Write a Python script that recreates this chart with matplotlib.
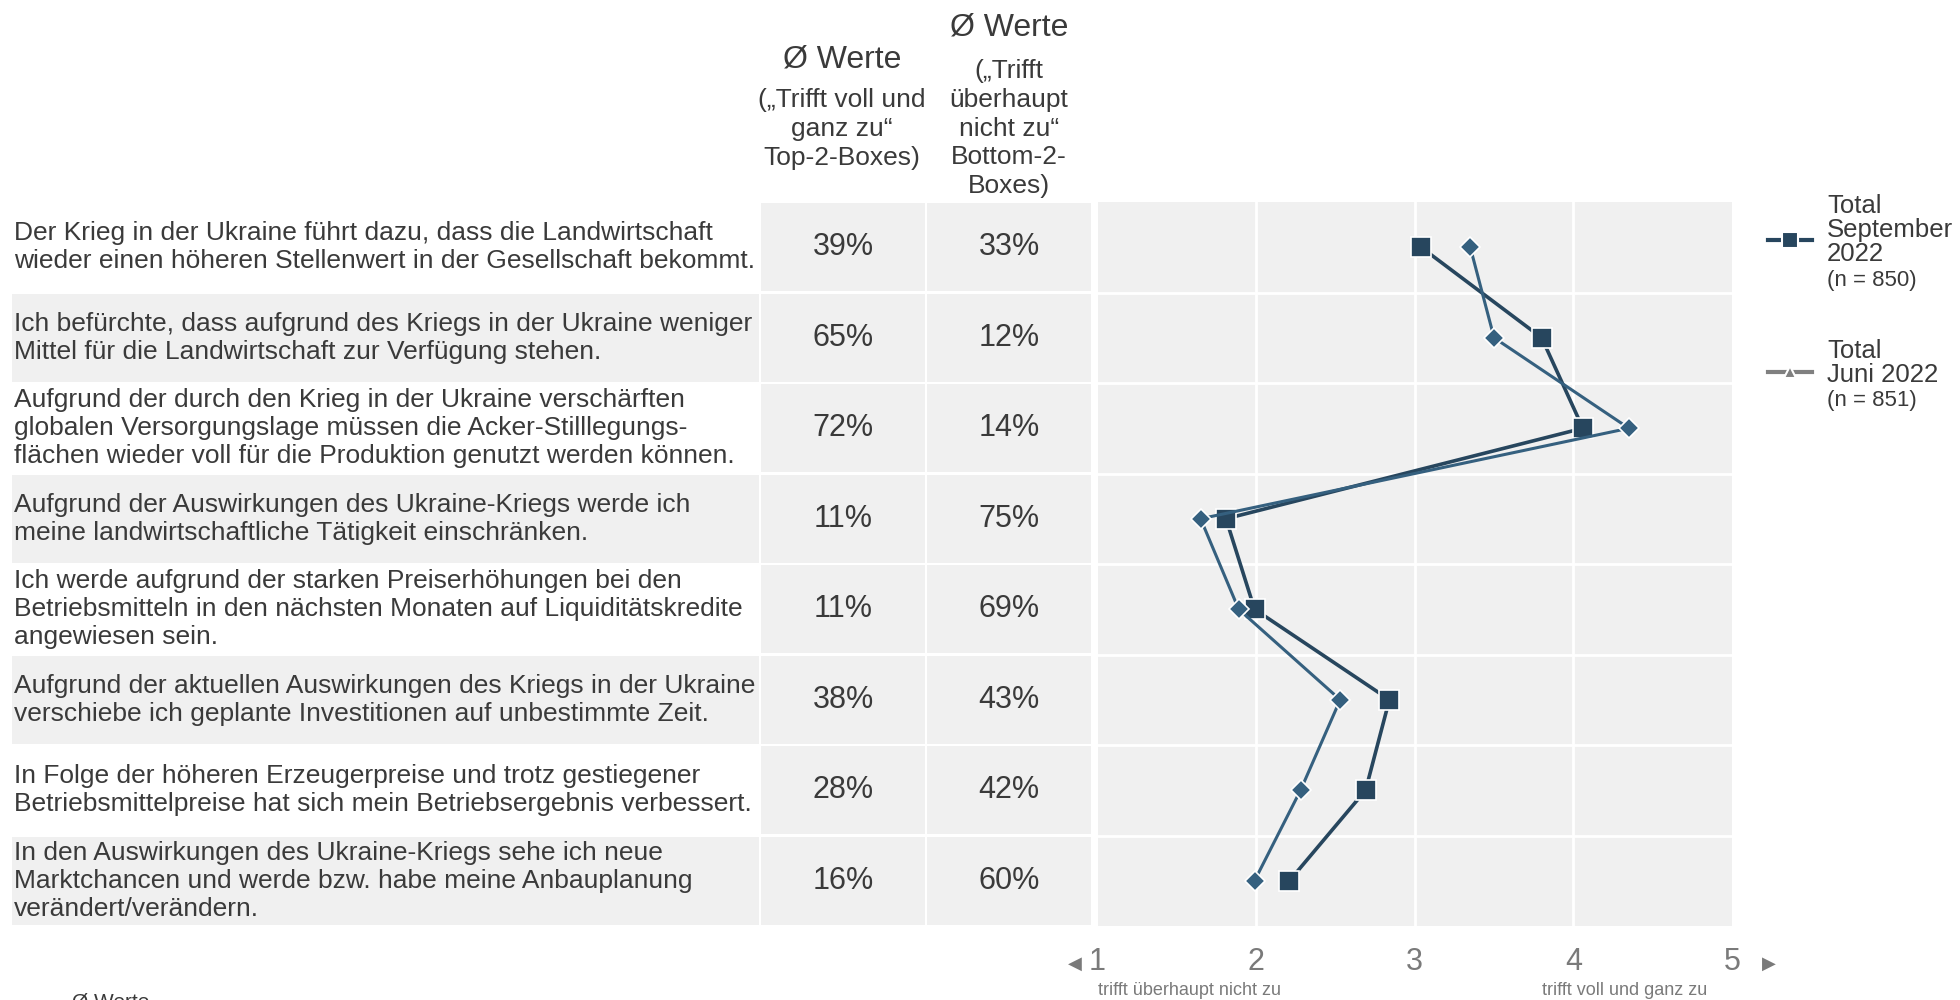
import matplotlib.pyplot as plt
from matplotlib import font_manager
from matplotlib.patches import Rectangle
from matplotlib.lines import Line2D

# data
statements = [
    "Der Krieg in der Ukraine führt dazu, dass die Landwirtschaft\nwieder einen höheren Stellenwert in der Gesellschaft bekommt.",
    "Ich befürchte, dass aufgrund des Kriegs in der Ukraine weniger\nMittel für die Landwirtschaft zur Verfügung stehen.",
    "Aufgrund der durch den Krieg in der Ukraine verschärften\nglobalen Versorgungslage müssen die Acker-Stilllegungs-\nflächen wieder voll für die Produktion genutzt werden können.",
    "Aufgrund der Auswirkungen des Ukraine-Kriegs werde ich\nmeine landwirtschaftliche Tätigkeit einschränken.",
    "Ich werde aufgrund der starken Preiserhöhungen bei den\nBetriebsmitteln in den nächsten Monaten auf Liquiditätskredite\nangewiesen sein.",
    "Aufgrund der aktuellen Auswirkungen des Kriegs in der Ukraine\nverschiebe ich geplante Investitionen auf unbestimmte Zeit.",
    "In Folge der höheren Erzeugerpreise und trotz gestiegener\nBetriebsmittelpreise hat sich mein Betriebsergebnis verbessert.",
    "In den Auswirkungen des Ukraine-Kriegs sehe ich neue\nMarktchancen und werde bzw. habe meine Anbauplanung\nverändert/verändern.",
]
top2 = [39, 65, 72, 11, 11, 38, 28, 16]
bottom2 = [33, 12, 14, 75, 69, 43, 42, 60]
mean_sep = [3.04, 3.80, 4.06, 1.81, 1.99, 2.84, 2.69, 2.21]
mean_jun = [3.35, 3.50, 4.35, 1.65, 1.89, 2.53, 2.28, 1.99]
scale_ticks = [1, 2, 3, 4, 5]

names = {f.name for f in font_manager.fontManager.ttflist}
font = 'Liberation Sans Narrow' if 'Liberation Sans Narrow' in names else 'Liberation Sans'
plt.rcParams['font.family'] = [font, 'DejaVu Sans']

TXT = '#3a3a3a'
GRAY_TXT = '#7a7a7a'
BG = '#f0f0f0'
C_SEP = '#27465e'
C_JUN = '#35607f'

W, H = 1960, 1000
fig = plt.figure(figsize=(W / 100, H / 100), dpi=100)
fig.patch.set_facecolor('white')

y_top, y_bot = 202, 926
n = len(statements)
rows = list(range(n))

# table axes (pixel units in x)
tab = fig.add_axes([0, (H - y_bot) / H, 1094 / W, (y_bot - y_top) / H])
tab.set_xlim(0, 1094)
tab.set_ylim(n, 0)
tab.axis('off')
gap = 0.012
for i in rows:
    if i % 2 == 1:
        tab.add_patch(Rectangle((12, i + gap), 747, 1 - 2 * gap, color=BG, lw=0))
    tab.add_patch(Rectangle((761, i + gap), 164, 1 - 2 * gap, color=BG, lw=0))
    tab.add_patch(Rectangle((927, i + gap), 164, 1 - 2 * gap, color=BG, lw=0))
    tab.text(14, i + 0.5, statements[i], ha='left', va='center', fontsize=19,
             color=TXT, linespacing=1.2)
    tab.text(843, i + 0.5, f"{top2[i]}%", ha='center', va='center', fontsize=22, color=TXT)
    tab.text(1009, i + 0.5, f"{bottom2[i]}%", ha='center', va='center', fontsize=22, color=TXT)

# column headers
fig.text(842 / W, 1 - 170 / H, "(„Trifft voll und\nganz zu“\nTop-2-Boxes)", ha='center', va='bottom',
         fontsize=19, color=TXT, linespacing=1.25)
fig.text(842 / W, 1 - 74 / H, "Ø Werte", ha='center', va='bottom', fontsize=23, color=TXT)
fig.text(1009 / W, 1 - 198 / H, "(„Trifft\nüberhaupt\nnicht zu“\nBottom-2-\nBoxes)", ha='center',
         va='bottom', fontsize=19, color=TXT, linespacing=1.25)
fig.text(1009 / W, 1 - 42 / H, "Ø Werte", ha='center', va='bottom', fontsize=23, color=TXT)

# line chart
ax = fig.add_axes([1097.5 / W, (H - y_bot) / H, (1732 - 1097.5) / W, (y_bot - y_top) / H])
ax.set_facecolor(BG)
ax.set_xlim(1, 5)
ax.set_ylim(n, 0)
y_pos = [i + 0.5 for i in rows]
for x in scale_ticks[1:-1]:
    ax.axvline(x, color='white', lw=2, zorder=1)
for i in rows[1:]:
    ax.axhline(i, color='white', lw=2, zorder=1)
ax.plot(mean_sep, y_pos, color=C_SEP, lw=2.6, marker='s', ms=14, mfc=C_SEP, mec='white', mew=1.2,
        zorder=3)
ax.plot(mean_jun, y_pos, color=C_JUN, lw=2.2, marker='D', ms=10, mfc=C_JUN, mec='white', mew=1.2,
        zorder=4)
for s in ax.spines.values():
    s.set_visible(False)
ax.set_yticks([])
ax.set_xticks(scale_ticks)
ax.set_xticklabels([str(t) for t in scale_ticks], fontsize=22, color=GRAY_TXT)
ax.tick_params(axis='x', length=0, pad=15)
ax.text(1, -0.077, "trifft überhaupt nicht zu", transform=ax.get_xaxis_transform(), ha='left',
        va='top', fontsize=13, color=GRAY_TXT)
ax.text(3.8, -0.077, "trifft voll und ganz zu", transform=ax.get_xaxis_transform(), ha='left',
        va='top', fontsize=13, color=GRAY_TXT)
ax.text(0.86, -0.0525, "◀", transform=ax.get_xaxis_transform(), ha='center', va='center',
        fontsize=13, color=GRAY_TXT, family='DejaVu Sans')
ax.text(5.23, -0.0525, "▶", transform=ax.get_xaxis_transform(), ha='center', va='center',
        fontsize=13, color=GRAY_TXT, family='DejaVu Sans')

# legend
def legend_entry(y, color, marker, ms):
    fig.add_artist(Line2D([1768 / W, 1812 / W], [1 - y / H, 1 - y / H], color=color, lw=3,
                          transform=fig.transFigure))
    fig.add_artist(Line2D([1790 / W], [1 - y / H], color=color, marker=marker, ms=ms, mfc=color,
                          mec='white', mew=1.5, transform=fig.transFigure))

legend_entry(240, C_SEP, 's', 11)
fig.text(1827 / W, 1 - 266 / H, "Total\nSeptember\n2022", ha='left', va='bottom', fontsize=18.5,
         color=TXT, linespacing=1.0)
fig.text(1827 / W, 1 - 270 / H, "(n = 850)", ha='left', va='top', fontsize=16, color=TXT)
legend_entry(372, '#808080', '^', 9)
fig.text(1827 / W, 1 - 387 / H, "Total\nJuni 2022", ha='left', va='bottom', fontsize=18.5,
         color=TXT, linespacing=1.0)
fig.text(1827 / W, 1 - 390 / H, "(n = 851)", ha='left', va='top', fontsize=16, color=TXT)

# cut-off note at bottom
fig.text(72 / W, -0.012, "Ø Werte", ha='left', va='bottom', fontsize=15, color=TXT)

fig.savefig('out.png', dpi=100)
